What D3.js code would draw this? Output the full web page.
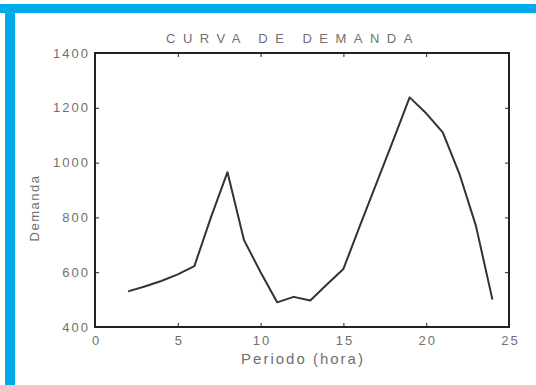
<!DOCTYPE html>
<html>
<head>
<meta charset="utf-8">
<script src="https://cdn.jsdelivr.net/npm/d3@7"></script>
<style>
  body { margin: 0; background: #fff; }
  svg text { font-family: "Liberation Sans", Arial, sans-serif; fill: #707070; }
</style>
</head>
<body>
<svg id="chart" width="536" height="385"></svg>
<script>
// data
var hours = [2, 3, 4, 5, 6, 7, 8, 9, 10, 11, 12, 13, 14, 15, 16, 17, 18, 19, 20, 21, 22, 23, 24];
var demand = [530, 548, 568, 592, 622, 800, 965, 717, 600, 490, 510, 497, 555, 612, 770, 925, 1080, 1238, 1180, 1110, 960, 770, 500];
var xTicks = [0, 5, 10, 15, 20, 25];
var yTicks = [400, 600, 800, 1000, 1200, 1400];

var svg = d3.select("#chart");

// cyan frame (top and left only)
svg.append("rect").attr("x", 0).attr("y", 4).attr("width", 536).attr("height", 9).attr("fill", "#00a9e8");
svg.append("rect").attr("x", 5).attr("y", 4).attr("width", 10).attr("height", 381).attr("fill", "#00a9e8");

// plot area edges (top is a reserved window name, so pTop)
var pLeft = 95, pRight = 509, pTop = 53, pBottom = 327;

var x = d3.scaleLinear().domain([0, 25]).range([pLeft, pRight]);
var y = d3.scaleLinear().domain([400, 1400]).range([pBottom, pTop]);

// title
svg.append("text")
   .attr("x", 293).attr("y", 43)
   .attr("text-anchor", "middle")
   .style("font-size", "13px")
   .style("letter-spacing", "7.5px")
   .text("CURVA DE DEMANDA");

// axes, MATLAB style box with inward ticks
var tickLen = 4;
var axisColor = "#222";

svg.append("g")
   .attr("transform", "translate(0," + pBottom + ")")
   .call(d3.axisBottom(x).tickValues(xTicks).tickFormat(d3.format("d")).tickSizeInner(-tickLen).tickSizeOuter(0).tickPadding(9))
   .call(function(g) {
     g.select(".domain").remove();
     g.selectAll("line").attr("stroke", axisColor);
     g.selectAll("text").style("font-size", "13px").style("letter-spacing", "2px").attr("dx", 1);
   });

svg.append("g")
   .attr("transform", "translate(" + pLeft + ",0)")
   .call(d3.axisLeft(y).tickValues(yTicks).tickFormat(d3.format("d")).tickSizeInner(-tickLen).tickSizeOuter(0).tickPadding(5))
   .call(function(g) {
     g.select(".domain").remove();
     g.selectAll("line").attr("stroke", axisColor);
     g.selectAll("text").style("font-size", "13px").style("letter-spacing", "2px");
   });

// top and right ticks
svg.append("g")
   .attr("transform", "translate(0," + pTop + ")")
   .call(d3.axisTop(x).tickValues(xTicks).tickSizeInner(-tickLen).tickSizeOuter(0).tickFormat(""))
   .call(function(g) { g.select(".domain").remove(); g.selectAll("line").attr("stroke", axisColor); });

svg.append("g")
   .attr("transform", "translate(" + pRight + ",0)")
   .call(d3.axisRight(y).tickValues(yTicks).tickSizeInner(-tickLen).tickSizeOuter(0).tickFormat(""))
   .call(function(g) { g.select(".domain").remove(); g.selectAll("line").attr("stroke", axisColor); });

// box
svg.append("rect")
   .attr("x", pLeft).attr("y", pTop)
   .attr("width", pRight - pLeft).attr("height", pBottom - pTop)
   .attr("fill", "none")
   .attr("stroke", axisColor)
   .attr("stroke-width", 2);

// axis labels
svg.append("text")
   .attr("x", 303).attr("y", 364)
   .attr("text-anchor", "middle")
   .style("font-size", "15px")
   .style("letter-spacing", "2px")
   .text("Periodo (hora)");

svg.append("text")
   .attr("transform", "translate(39,208) rotate(-90)")
   .attr("text-anchor", "middle")
   .style("font-size", "13px")
   .style("letter-spacing", "1.5px")
   .text("Demanda");

// demand curve
var line = d3.line()
   .x(function(d, i) { return x(hours[i]); })
   .y(function(d) { return y(d); });

svg.append("path")
   .datum(demand)
   .attr("d", line)
   .attr("fill", "none")
   .attr("stroke", "#333")
   .attr("stroke-width", 2)
   .attr("stroke-linejoin", "round");
</script>
</body>
</html>
